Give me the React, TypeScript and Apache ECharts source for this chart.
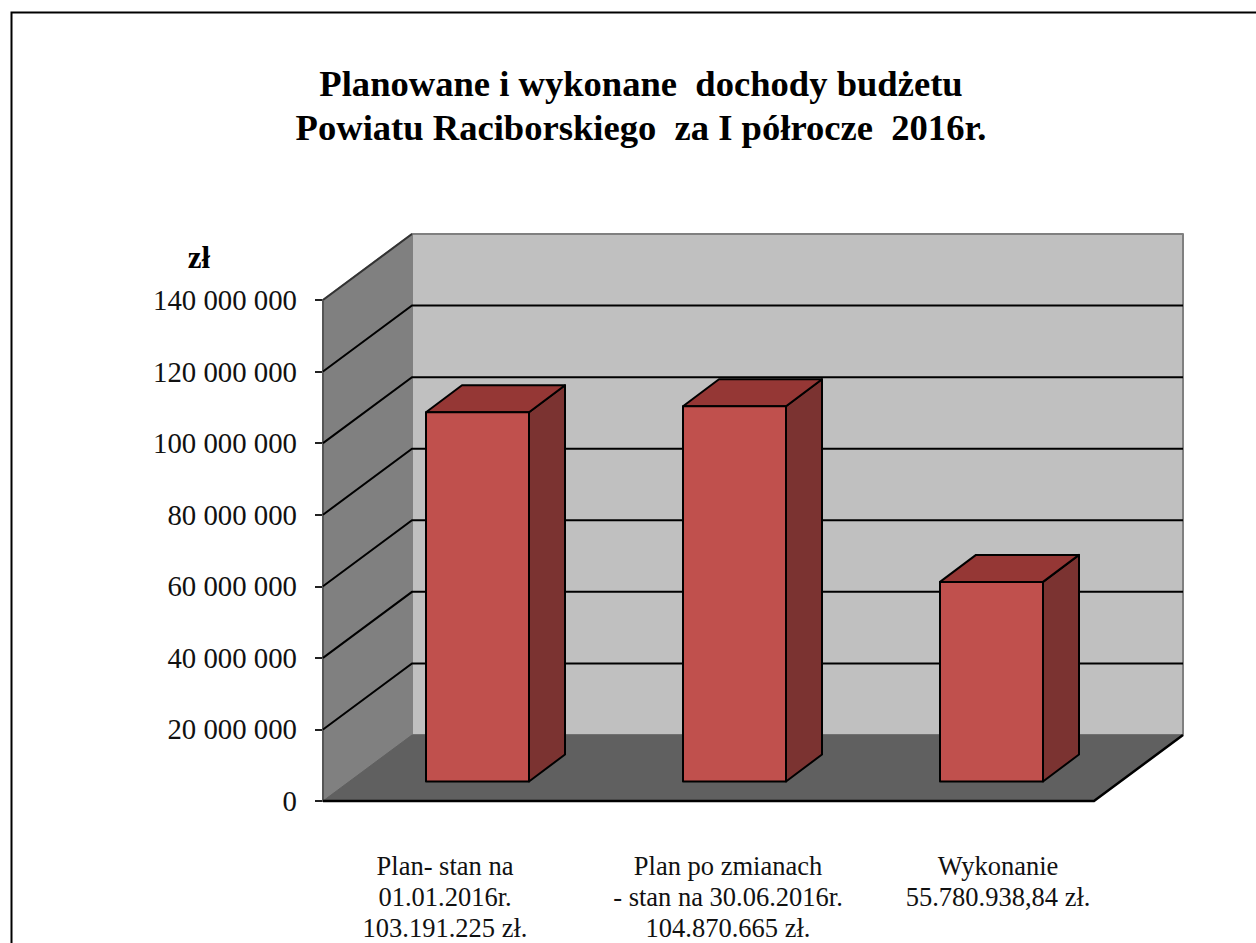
import React, { useEffect, useRef } from "react";
import * as echarts from "echarts";

const titleLines = ["Planowane i wykonane  dochody budżetu", "Powiatu Raciborskiego  za I półrocze  2016r."];
const unitLabel = "zł";
const categories = [
  "Plan- stan na\n01.01.2016r.\n103.191.225 zł.",
  "Plan po zmianach\n- stan na 30.06.2016r.\n104.870.665 zł.",
  "Wykonanie\n55.780.938,84 zł.",
];
const categoryPadding = [
  [0, 13, 0, 0],
  [0, 0, 0, 39],
  [0, 0, 0, 65],
];
const values = [103191225, 104870665, 55780938.84];
const gridValues = [20000000, 40000000, 60000000, 80000000, 100000000, 120000000];

const WALL_DX = 89;
const WALL_DY = -66;
const BAR_OFFSET_X = 26;
const BAR_OFFSET_Y = -19.5;
const BAR_WIDTH = 103;
const BAR_DX = 36;
const BAR_DY = -27;
const SERIF = "'Liberation Serif', 'Times New Roman', serif";

const poly = (points: number[][], fill: string, stroke: string, lineWidth = 2) => ({
  type: "polygon",
  shape: { points },
  style: { fill, stroke, lineWidth, lineJoin: "round" },
});

const line = (points: number[][], stroke: string, lineWidth = 2) => ({
  type: "polyline",
  shape: { points },
  style: { fill: "none", stroke, lineWidth },
});

export default function App() {
  const ref = useRef<HTMLDivElement>(null);
  useEffect(() => {
    const chart = echarts.init(ref.current!, null, { renderer: "svg" });
    chart.setOption({
      animation: false,
      backgroundColor: "#ffffff",
      title: {
        text: titleLines.join("\n"),
        left: 636,
        top: 56,
        textAlign: "center",
        textStyle: { fontFamily: SERIF, fontWeight: "bold", fontSize: 36.6, lineHeight: 44, color: "#000" },
      },
      grid: { left: 323, top: 300, width: 771, height: 501.5, containLabel: false },
      xAxis: {
        type: "category",
        data: categories.map((value, i) => ({ value, textStyle: { padding: categoryPadding[i] } })),
        axisLine: { show: false },
        axisTick: { show: false },
        axisLabel: {
          interval: 0,
          margin: 49,
          verticalAlign: "top",
          fontFamily: SERIF,
          fontSize: 26.5,
          lineHeight: 31,
          color: "#111",
          hideOverlap: false,
        },
      },
      yAxis: {
        type: "value",
        min: 0,
        max: 140000000,
        interval: 20000000,
        name: unitLabel,
        nameLocation: "end",
        nameGap: 27,
        nameTextStyle: {
          fontFamily: SERIF,
          fontWeight: "bold",
          fontSize: 31,
          color: "#000",
          align: "center",
          padding: [0, 248, 0, 0],
        },
        splitLine: { show: false },
        axisLine: { show: false },
        axisTick: { show: true, length: 8, lineStyle: { color: "#222", width: 2 } },
        axisLabel: {
          margin: 26,
          fontFamily: SERIF,
          fontSize: 28.8,
          color: "#111",
          formatter: (v: number) => String(v).replace(/\B(?=(\d{3})+$)/g, " "),
        },
      },
      graphic: [
        {
          type: "polyline",
          shape: { points: [[11.5, 943], [11.5, 12.5], [1256, 12.5]] },
          style: { fill: "none", stroke: "#000", lineWidth: 2 },
          z: 100,
        },
      ],
      series: [
        {
          type: "custom",
          name: "walls",
          z: 1,
          silent: true,
          data: [[0, 0]],
          encode: { x: 0, y: 1 },
          renderItem: (params: any, api: any) => {
            const cs = params.coordSys;
            const y0 = api.coord([0, 0])[1];
            const yT = api.coord([0, 140000000])[1];
            const L = cs.x;
            const R = cs.x + cs.width;
            return {
              type: "group",
              children: [
                poly([[L + WALL_DX, yT + WALL_DY], [R + WALL_DX, yT + WALL_DY], [R + WALL_DX, y0 + WALL_DY], [L + WALL_DX, y0 + WALL_DY]], "#c0c0c0", "#808080"),
                poly([[L, yT], [L + WALL_DX, yT + WALL_DY], [L + WALL_DX, y0 + WALL_DY], [L, y0]], "#808080", "#808080"),
                poly([[L, y0], [L + WALL_DX, y0 + WALL_DY], [R + WALL_DX, y0 + WALL_DY], [R, y0]], "#606060", "#606060", 1),
                line([[L, yT], [L + WALL_DX, yT + WALL_DY]], "#333"),
                line([[L, yT], [L, y0]], "#555"),
                line([[L, y0], [R, y0], [R + WALL_DX, y0 + WALL_DY]], "#000", 2.5),
              ],
            };
          },
        },
        {
          type: "custom",
          name: "gridlines",
          z: 2,
          silent: true,
          data: gridValues.map((v) => [0, v]),
          encode: { x: 0, y: 1 },
          renderItem: (params: any, api: any) => {
            const cs = params.coordSys;
            const y = api.coord([0, api.value(1)])[1];
            const L = cs.x;
            const R = cs.x + cs.width;
            return line([[L, y], [L + WALL_DX, y + WALL_DY], [R + WALL_DX, y + WALL_DY]], "#000");
          },
        },
        {
          type: "custom",
          name: "Dochody",
          z: 3,
          silent: true,
          data: values.map((v, i) => [i, v]),
          encode: { x: 0, y: 1 },
          renderItem: (_params: any, api: any) => {
            const [cx, yTop] = api.coord([api.value(0), api.value(1)]);
            const y0 = api.coord([api.value(0), 0])[1];
            const l = cx + BAR_OFFSET_X - BAR_WIDTH / 2;
            const r = l + BAR_WIDTH;
            const t = yTop + BAR_OFFSET_Y;
            const b = y0 + BAR_OFFSET_Y;
            return {
              type: "group",
              children: [
                poly([[r, t], [r + BAR_DX, t + BAR_DY], [r + BAR_DX, b + BAR_DY], [r, b]], "#7b3331", "#000"),
                poly([[l, t], [l + BAR_DX, t + BAR_DY], [r + BAR_DX, t + BAR_DY], [r, t]], "#953735", "#000"),
                poly([[l, t], [r, t], [r, b], [l, b]], "#c0504d", "#000"),
              ],
            };
          },
        },
      ],
    });
    return () => chart.dispose();
  }, []);
  return <div ref={ref} style={{ position: "fixed", left: 0, top: 0, width: 1256, height: 943 }} />;
}
